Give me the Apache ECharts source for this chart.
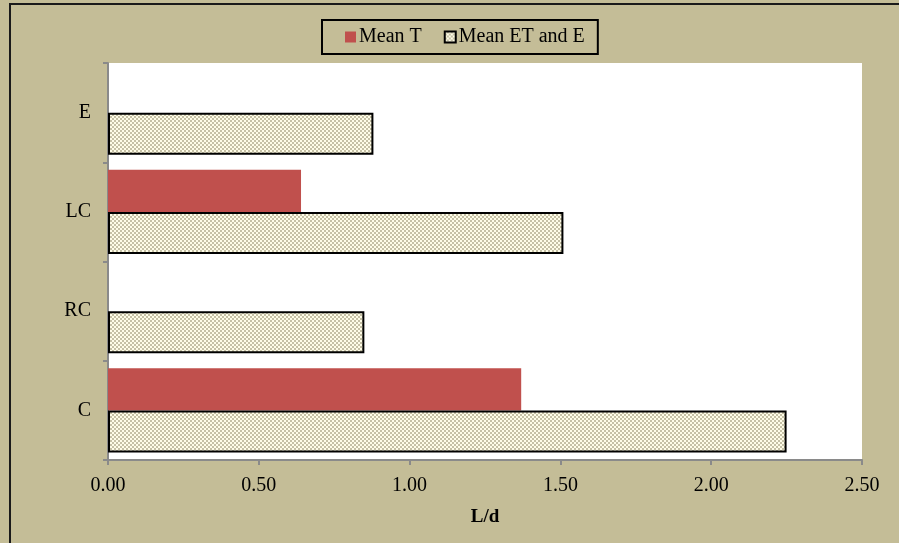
<!DOCTYPE html>
<html>
<head>
<meta charset="utf-8">
<script src="https://cdn.jsdelivr.net/npm/echarts@6/dist/echarts.min.js"></script>
<style>
  html, body { margin: 0; padding: 0; background: #C4BD97; }
  #chart { width: 899px; height: 543px; }
</style>
</head>
<body>
<div id="chart"></div>
<script>
// Site categories (bottom to top) and mean daily values in L/d
var categories = ['C', 'RC', 'LC', 'E'];
var meanT = [1.37, null, 0.64, null];
var meanETandE = [2.25, 0.85, 1.51, 0.88];
var xTicks = [0, 0.5, 1, 1.5, 2, 2.5];

// Small checkerboard fill used for the "Mean ET and E" bars
function checkerPattern() {
  var c = document.createElement('canvas');
  c.width = 4; c.height = 4;
  var g = c.getContext('2d');
  g.fillStyle = '#C6C1A6';
  g.fillRect(0, 0, 4, 4);
  g.fillStyle = '#FFFDE8';
  g.fillRect(0, 0, 2, 2);
  g.fillRect(2, 2, 2, 2);
  return c;
}
var pattern = { image: checkerPattern(), repeat: 'repeat' };

var serif = '"Liberation Serif", "Times New Roman", serif';
var axisGray = '#8A8A8A';

var chart = echarts.init(document.getElementById('chart'));
chart.setOption({
  backgroundColor: '#C4BD97',
  animation: false,
  textStyle: { fontFamily: serif, color: '#000' },
  graphic: [{
    type: 'rect',
    shape: { x: 10, y: 4, width: 900, height: 560 },
    style: { fill: 'none', stroke: '#1a1a1a', lineWidth: 2 },
    silent: true
  }],
  legend: {
    left: 322,
    top: 20,
    padding: [7, 13, 7, 23],
    borderColor: '#000',
    borderWidth: 2,
    backgroundColor: '#C4BD97',
    itemWidth: 11,
    itemHeight: 11,
    itemGap: 22,
    icon: 'rect',
    data: ['Mean T', 'Mean ET and E'],
    textStyle: { fontFamily: serif, fontSize: 20, color: '#000', padding: [0, 0, 0, -2] }
  },
  grid: {
    left: 108,
    right: 37,
    top: 63,
    bottom: 83,
    show: true,
    backgroundColor: '#FFFFFF',
    borderWidth: 0,
    containLabel: false
  },
  xAxis: {
    type: 'value',
    min: xTicks[0],
    max: xTicks[xTicks.length - 1],
    interval: 0.5,
    name: 'L/d',
    nameLocation: 'middle',
    nameGap: 48,
    nameTextStyle: { fontFamily: serif, fontSize: 19, fontWeight: 'bold', color: '#000' },
    axisLine: { show: true, lineStyle: { color: axisGray, width: 2 } },
    axisTick: { show: true, length: 5, lineStyle: { color: axisGray, width: 2 } },
    axisLabel: {
      fontFamily: serif, fontSize: 20, color: '#000', margin: 16,
      formatter: function (v) { return v.toFixed(2); }
    },
    splitLine: { show: false }
  },
  yAxis: {
    type: 'category',
    data: categories,
    axisLine: { show: true, lineStyle: { color: axisGray, width: 2 } },
    axisTick: { show: true, length: 5, lineStyle: { color: axisGray, width: 2 } },
    axisLabel: { fontFamily: serif, fontSize: 20, color: '#000', margin: 17 },
    splitLine: { show: false }
  },
  series: [
    {
      name: 'Mean T',
      type: 'bar',
      data: meanT,
      barGap: '0%',
      barCategoryGap: '15%',
      itemStyle: { color: '#C0504D' }
    },
    {
      name: 'Mean ET and E',
      type: 'bar',
      data: meanETandE,
      barGap: '0%',
      barCategoryGap: '15%',
      itemStyle: { color: pattern, borderColor: '#000', borderWidth: 2 }
    }
  ]
});
</script>
</body>
</html>
